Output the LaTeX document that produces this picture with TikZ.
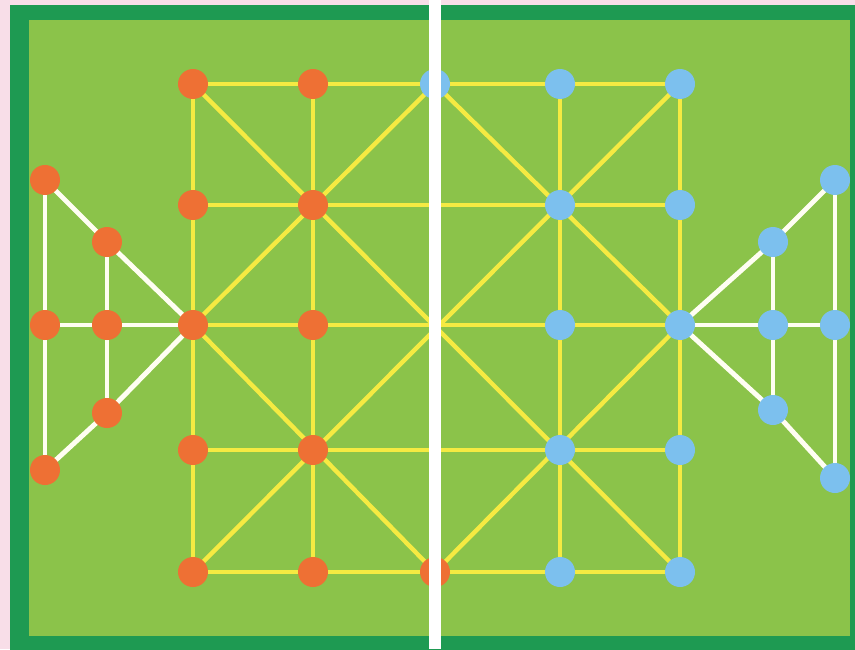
\documentclass[tikz,border=0pt]{standalone}
\usepackage{tikz}

\definecolor{pinkbg}{RGB}{248,222,232}
\definecolor{edgegreen}{RGB}{30,154,82}
\definecolor{boardgreen}{RGB}{139,195,74}
\definecolor{lineyellow}{RGB}{245,234,66}
\definecolor{piecered}{RGB}{238,112,52}
\definecolor{pieceblue}{RGB}{124,192,238}

\begin{document}
\begin{tikzpicture}[x=0.02cm,y=-0.02cm,
  gridline/.style={lineyellow,line width=2.5pt},
  triline/.style={white!95!yellow,line width=2.8pt},
  reddot/.style={circle,fill=piecered,inner sep=0pt,minimum size=0.6cm},
  bluedot/.style={circle,fill=pieceblue,inner sep=0pt,minimum size=0.6cm}]
  \useasboundingbox (0,0) rectangle (855,649);
  \clip (0,0) rectangle (855,649);
  % board
  \fill[pinkbg] (0,0) rectangle (855,649);
  \fill[edgegreen] (10,5) rectangle (870,670);
  \fill[boardgreen] (29,20) rectangle (850,636);
  % grid points
  \foreach \c/\x in {0/193,1/313,2/435,3/560,4/680} {
    \foreach \r/\y in {0/84,1/205,2/325,3/450,4/572} {
      \coordinate (g\c\r) at (\x,\y);
    }
  }
  % side triangles
  \coordinate (la) at (45,180);
  \coordinate (lb) at (107,242);
  \coordinate (lc) at (45,325);
  \coordinate (ld) at (107,325);
  \coordinate (le) at (107,413);
  \coordinate (lf) at (45,470);
  \coordinate (ra) at (835,180);
  \coordinate (rb) at (773,242);
  \coordinate (rc) at (835,325);
  \coordinate (rd) at (773,325);
  \coordinate (re) at (773,410);
  \coordinate (rf) at (835,478);
  % yellow lines
  \foreach \i in {0,...,4} {
    \draw[gridline] (g0\i) -- (g4\i);
    \draw[gridline] (g\i0) -- (g\i4);
  }
  \draw[gridline] (g00) -- (g44);
  \draw[gridline] (g40) -- (g04);
  \draw[gridline] (g20) -- (g02) -- (g24) -- (g42) -- cycle;
  % white lines
  \draw[triline] (la) -- (lf);
  \draw[triline] (la) -- (lb) -- (g02) -- (le) -- (lf);
  \draw[triline] (lb) -- (le);
  \draw[triline] (lc) -- (g02);
  \draw[triline] (ra) -- (rf);
  \draw[triline] (ra) -- (rb) -- (g42) -- (re) -- (rf);
  \draw[triline] (rb) -- (re);
  \draw[triline] (rc) -- (g42);
  % pieces
  \foreach \r in {0,...,4} {
    \node[reddot] (p0\r) at (g0\r) {};
    \node[reddot] (p1\r) at (g1\r) {};
    \node[bluedot] (p3\r) at (g3\r) {};
    \node[bluedot] (p4\r) at (g4\r) {};
  }
  \node[reddot] (p24) at (g24) {};
  \node[bluedot] (p20) at (g20) {};
  \foreach \n in {a,b,c,d,e,f} {
    \node[reddot] (pl\n) at (l\n) {};
    \node[bluedot] (pr\n) at (r\n) {};
  }
  % fold
  \fill[white] (429,0) rectangle (441,649);
\end{tikzpicture}
\end{document}
